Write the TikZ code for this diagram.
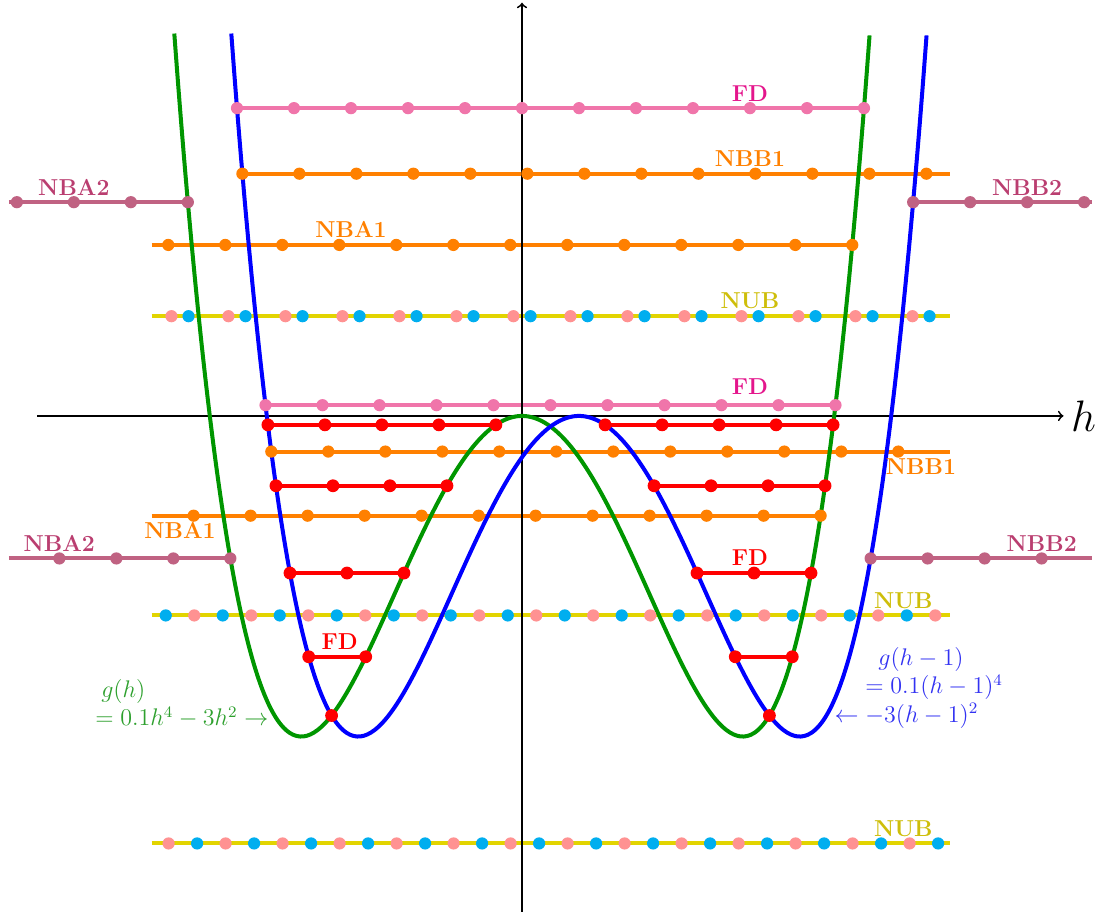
\RequirePackage{fix-cm}
\documentclass[tikz,border=0pt]{standalone}
\usepackage{tikz}
\usepackage{xcolor}

\definecolor{fdpink}{RGB}{240,117,170}
\definecolor{fdmagenta}{RGB}{228,22,140}
\definecolor{nbmauve}{RGB}{192,98,130}
\definecolor{nbmauvetext}{RGB}{186,62,112}
\definecolor{nborange}{RGB}{255,128,0}
\definecolor{nubyellow}{RGB}{226,212,0}
\definecolor{nubtext}{RGB}{206,190,10}
\definecolor{dotsalmon}{RGB}{255,146,146}
\definecolor{dotcyan}{RGB}{0,174,239}
\definecolor{curvegreen}{RGB}{0,150,0}
\definecolor{labelgreen}{RGB}{46,160,46}
\definecolor{labelblue}{RGB}{50,50,242}

\begin{document}
\begin{tikzpicture}[
        x=1cm, y=0.25cm,
        levelline/.style={line width=2pt},
        potcurve/.style={line width=2pt, smooth, samples=200},
        lbl/.style={font=\fontsize{11.5}{13}\selectfont\bfseries},
        declare function={gg(\h)=0.1*(\h)*(\h)*(\h)*(\h)-3*(\h)*(\h);}
    ]
        \useasboundingbox (-9.158,-35.30) rectangle (10.158,29.19);

        % FD levels (pink) and the red FD pieces between the two wells
        \draw[levelline, fdpink] (-5,21.6) -- (6,21.6);
        \draw[levelline, fdpink] (-4.5,0.756) -- (5.5,0.756);
        \foreach \n/\a/\c in {4/0.45804/-0.625, 3/1.31662/-4.9, 2/2.07071/-11.025, 1/2.74166/-16.9} {
            \draw[levelline, red] ({-\a-\n},\c) -- ({-\a},\c);
            \draw[levelline, red] ({1+\a},\c) -- ({1+\a+\n},\c);
        }

        % NBB1 / NBA1 levels (orange)
        \draw[levelline, nborange] (-4.9055,17) -- (7.5,17);
        \draw[levelline, nborange] (-6.5,12) -- (5.7943,12);
        \draw[levelline, nborange] (-4.3983,-2.5) -- (7.5,-2.5);
        \draw[levelline, nborange] (-6.5,-7) -- (5.2393,-7);

        % NBA2 / NBB2 levels (outside the wells)
        \draw[levelline, nbmauve] (-9,15) -- (-5.8622,15);
        \draw[levelline, nbmauve] (6.8622,15) -- (10,15);
        \draw[levelline, nbmauve] (-9,-10) -- (-5.1167,-10);
        \draw[levelline, nbmauve] (6.1167,-10) -- (10,-10);

        % NUB levels (yellow)
        \foreach \y in {7,-14,-30} {
            \draw[levelline, nubyellow] (-6.5,\y) -- (7.5,\y);
        }

        % Axes
        \draw[->, line width=0.9pt] (-8.5,0) -- (9.5,0)
            node[right, font=\fontsize{22}{26}\selectfont] (hlabel) {$h$};
        \draw[->, line width=0.9pt] (0,-34.8) -- (0,29);

        % Potentials g(h) and g(h-1)
        \draw[potcurve, curvegreen, domain=-6.1:6.1] plot (\x, {gg(\x)});
        \draw[potcurve, blue, domain=-5.1:7.1] plot (\x, {gg(\x-1)});

        % Dots on the levels
        \foreach \y/\s/\n in {21.6/-5/11, 0.756/-4.5/10} {
            \foreach \k in {0,...,\n} \fill[fdpink] ({\s+\k},\y) circle (3.05pt);
        }
        \foreach \y/\s/\d/\n in {17/-4.9055/1/12, -2.5/-4.3983/1/11, 12/5.7943/-1/12, -7/5.2393/-1/11} {
            \foreach \k in {0,...,\n} \fill[nborange] ({\s+\d*\k},\y) circle (3.05pt);
        }
        \foreach \y/\s in {15/5.8622, -10/5.1167} {
            \foreach \k in {0,...,3} {
                \fill[nbmauve] ({-\s-\k},\y) circle (3.05pt);
                \fill[nbmauve] ({1+\s+\k},\y) circle (3.05pt);
            }
        }
        \foreach \y/\p/\q in {7/-6.15/-5.85, -14/-5.75/-6.25, -30/-6.2/-5.7} {
            \foreach \k in {0,...,13} {
                \fill[dotsalmon] ({\p+\k},\y) circle (3.05pt);
                \fill[dotcyan] ({\q+\k},\y) circle (3.05pt);
            }
        }
        \foreach \n/\a/\c in {4/0.45804/-0.625, 3/1.31662/-4.9, 2/2.07071/-11.025, 1/2.74166/-16.9, 0/3.34058/-21.025} {
            \foreach \k in {0,...,\n} {
                \fill[red] ({-\a-\n+\k},\c) circle (3.2pt);
                \fill[red] ({1+\a+\k},\c) circle (3.2pt);
            }
        }

        % Level labels
        \node[lbl, fdmagenta, above] (fdtop) at (4,21.6) {FD};
        \node[lbl, nborange, above] (nbbtop) at (4,17) {NBB1};
        \node[lbl, nbmauvetext, above] (nbatwotop) at (-7.862,15) {NBA2};
        \node[lbl, nbmauvetext, above] (nbbtwotop) at (8.862,15) {NBB2};
        \node[lbl, nborange, above] (nbatop) at (-3,12) {NBA1};
        \node[lbl, nubtext, above] (nubtop) at (4,7) {NUB};
        \node[lbl, fdmagenta, above=2pt] (fdmid) at (4,0.756) {FD};
        \node[lbl, nborange, below] (nbblow) at (7,-2.5) {NBB1};
        \node[lbl, nborange, below] (nbalow) at (-6,-7) {NBA1};
        \node[lbl, nbmauvetext, above] (nbatwolow) at (-8.117,-10) {NBA2};
        \node[lbl, nbmauvetext, above] (nbbtwolow) at (9.117,-10) {NBB2};
        \node[lbl, red, above] (fdthree) at (4,-11.025) {FD};
        \node[lbl, nubtext, above] (nubmid) at (6.69,-14) {NUB};
        \node[lbl, red, above] (fdone) at (-3.2,-16.9) {FD};
        \node[lbl, nubtext, above] (nubbottom) at (6.69,-30) {NUB};

        % Curve labels
        \node[labelgreen, anchor=west, align=left, font=\large] (glabel) at (-7.61,-20.21)
            {\hspace{3pt}$g(h)$\\$=0.1h^4-3h^2\rightarrow$};
        \node[labelblue, anchor=west, align=left, font=\large] (gshiftlabel) at (5.9,-19.09)
            {\hspace{6.5pt}$g(h-1)$\\$=0.1(h-1)^4$\\\llap{$\leftarrow\;$}$-3(h-1)^2$};

    \end{tikzpicture}
\end{document}
